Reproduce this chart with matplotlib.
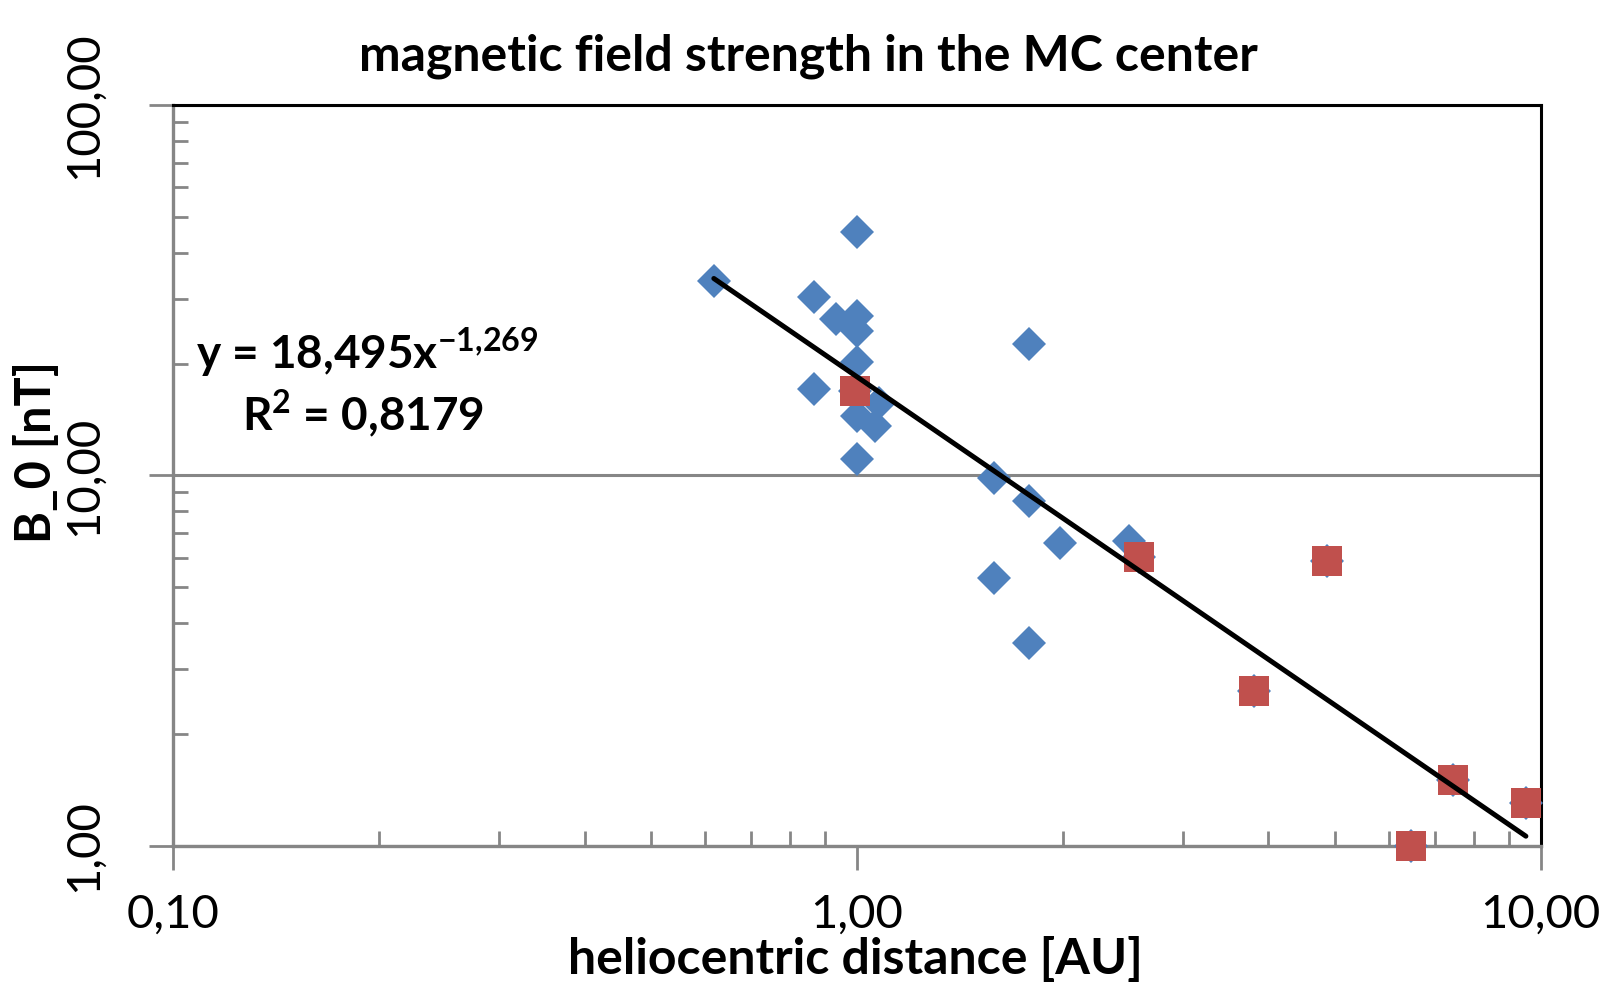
import matplotlib
matplotlib.use('Agg')
import matplotlib.pyplot as plt
import numpy as np
from matplotlib.ticker import FixedLocator, FuncFormatter, NullFormatter

# ---- data ----
blue_x = [0.618, 1.00, 0.866, 0.934, 1.00, 1.00, 1.785, 1.00, 0.866, 1.078,
          1.00, 1.065, 1.00, 1.587, 1.785, 1.98, 2.50, 1.59, 1.785,
          0.993, 2.586, 4.87, 3.81, 7.46, 9.52, 6.46]
blue_y = [33.5, 45.6, 30.3, 26.4, 27.0, 24.5, 22.7, 20.2, 17.1, 15.7,
          14.5, 13.6, 11.1, 9.86, 8.52, 6.55, 6.65, 5.29, 3.52,
          16.9, 6.03, 5.88, 2.61, 1.50, 1.30, 1.00]
red_x = [0.993, 2.586, 4.87, 3.81, 7.46, 9.52, 6.46]
red_y = [16.9, 6.03, 5.88, 2.61, 1.50, 1.30, 1.00]
fit_a = 18.495
fit_b = -1.269
r_squared = 0.8179
x_ticks = [0.1, 1.0, 10.0]
y_ticks = [1.0, 10.0, 100.0]

title_text = "magnetic field strength in the MC center"
xlabel_text = "heliocentric distance [AU]"
ylabel_text = "B_0 [nT]"

plt.rcParams['font.family'] = ['Lato', 'DejaVu Sans']
plt.rcParams['mathtext.fontset'] = 'custom'
plt.rcParams['mathtext.rm'] = 'Lato'
plt.rcParams['mathtext.bf'] = 'Lato:bold'

GRAY = '#868686'
BLUE = '#4F81BD'
RED = '#C0504D'

fig = plt.figure(figsize=(16.05, 9.90), dpi=100)
W, H = 1605, 990
l, r, t, b = 173, 1540.5, 105.4, 845.5
ax = fig.add_axes([l / W, 1 - b / H, (r - l) / W, (b - t) / H])
ax.set_xscale('log')
ax.set_yscale('log')
ax.set_xlim(x_ticks[0], x_ticks[-1])
ax.set_ylim(y_ticks[0], y_ticks[-1])

ax.set_axisbelow(True)
ax.yaxis.grid(True, which='major', color=GRAY, lw=2.2)

for s in ['left', 'bottom']:
    ax.spines[s].set_color(GRAY)
    ax.spines[s].set_linewidth(2.4)
for s in ['top', 'right']:
    ax.spines[s].set_color('black')
    ax.spines[s].set_linewidth(2.2)

fmt = FuncFormatter(lambda v, p: f"{v:.2f}".replace('.', ','))
ax.xaxis.set_major_locator(FixedLocator(x_ticks))
ax.yaxis.set_major_locator(FixedLocator(y_ticks))
ax.xaxis.set_major_formatter(fmt)
ax.yaxis.set_major_formatter(fmt)
xm = [m * d for d in [0.1, 1.0] for m in range(2, 10)]
ym = [m * d for d in [1.0, 10.0] for m in range(2, 10)]
ax.xaxis.set_minor_locator(FixedLocator(xm))
ax.yaxis.set_minor_locator(FixedLocator(ym))
ax.xaxis.set_minor_formatter(NullFormatter())
ax.yaxis.set_minor_formatter(NullFormatter())

ax.tick_params(axis='both', which='major', direction='out', length=17, width=2, color=GRAY,
               labelsize=34, labelcolor='black')
ax.tick_params(axis='both', which='minor', direction='in', length=11, width=2, color=GRAY)
ax.tick_params(axis='x', which='major', pad=18)
ax.tick_params(axis='y', which='major', pad=32, labelrotation=90)
for lab in ax.get_yticklabels():
    lab.set_va('center')

# markers
ax.plot(blue_x, blue_y, linestyle='none', marker='D', markersize=17, color=BLUE,
        markeredgewidth=0, clip_on=False, zorder=3)
ax.plot(red_x, red_y, linestyle='none', marker='s', markersize=22, color=RED,
        markeredgewidth=0, clip_on=False, zorder=4)

# trend line
xs = np.logspace(np.log10(min(blue_x)), np.log10(max(blue_x)), 100)
ax.plot(xs, fit_a * xs ** fit_b, color='black', lw=3.6, zorder=5, solid_capstyle='round')

# texts
fig.text(808 / W, 1 - 56 / H, title_text, ha='center', va='center', fontsize=36, fontweight='bold')
fig.text(855 / W, 1 - 959 / H, xlabel_text, ha='center', va='center', fontsize=36, fontweight='bold')
fig.text(36 / W, 1 - 452 / H, ylabel_text, ha='center', va='center', rotation=90,
         fontsize=35, fontweight='bold')

exp_txt = f"{fit_b:.3f}".replace('.', '{,}')
eq1 = "y = " + f"{fit_a:.3f}".replace('.', ',') + "x" + r"$^{\mathbf{" + exp_txt + r"}}$"
fig.text(196 / W, 1 - 353 / H, eq1, ha='left', va='center', fontsize=33, fontweight='bold')
fig.text(242 / W, 1 - 414 / H, r"R$^{\mathbf{2}}$ = " + f"{r_squared:.4f}".replace('.', ','),
         ha='left', va='center', fontsize=33, fontweight='bold')

fig.savefig('out.png', dpi=100)
